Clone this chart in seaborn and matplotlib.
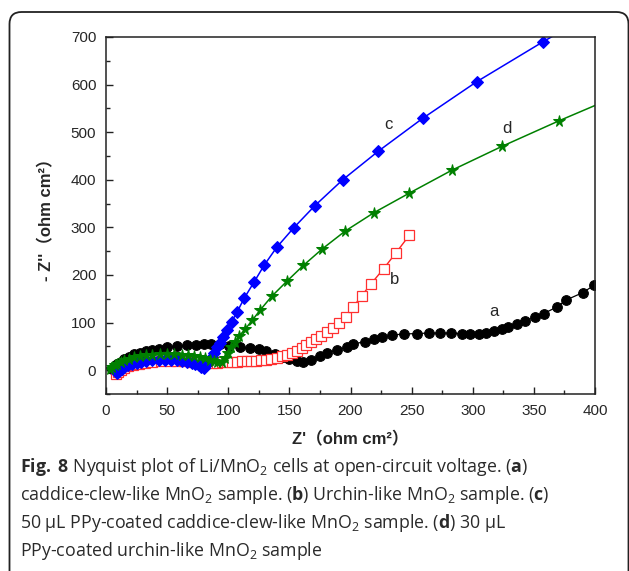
import matplotlib
matplotlib.use("Agg")
import matplotlib.pyplot as plt
import matplotlib.patches as mpatches
import matplotlib.transforms as mtransforms
from matplotlib.ticker import MultipleLocator
import seaborn as sns

# a: caddice-clew-like MnO2 (black circles)
a_x = [5, 7, 9, 12, 15, 19, 23, 28, 33, 38, 43, 50, 58, 66, 74, 80, 86, 93, 101,
       110, 118, 125, 131, 138, 145, 150, 156, 161, 168, 175, 181, 189, 197, 202,
       212, 219, 226, 234, 244, 254, 264, 273, 282, 291, 298, 305, 311, 317, 324,
       329, 336, 343, 351, 358, 369, 376, 390, 399]
a_y = [2, 8, 13, 18, 23, 28, 33, 37, 40, 43, 45, 48, 50, 52, 53, 55, 55, 54, 51,
       48, 46, 44, 41, 34, 28, 23, 20, 18, 21, 30, 37, 42, 48, 55,
       60, 65, 69, 74, 76, 77, 78, 78, 78, 77, 77, 77, 79, 83, 86,
       91, 97, 104, 111, 119, 133, 147, 163, 178]

# b: urchin-like MnO2 (red open squares)
b_x = [8, 10, 12, 15, 18, 22, 27, 32, 38, 45, 52, 58, 64, 70, 76, 82, 87, 91, 95,
       99, 103, 107, 111, 115, 119, 123, 127, 131, 135, 140, 144, 148, 152, 156,
       160, 164, 168, 172, 176, 181, 186, 191, 196, 202, 209, 217, 227, 237, 248]
b_y = [-8, -4, 0, 4, 8, 11, 14, 16, 18, 19, 20, 20, 19, 18, 17, 15, 15, 16, 17,
       18, 18, 18, 19, 19, 20, 20, 21, 22, 24, 26, 29, 32, 36, 41,
       47, 53, 59, 65, 72, 80, 89, 100, 112, 132, 156, 182, 213, 246, 283]

# c: 50 uL PPy-coated caddice-clew-like MnO2 (blue diamonds)
c_x = [9, 11, 13, 15, 18, 21, 25, 29, 33, 38, 43, 48, 53, 58, 62, 66, 70, 73, 76,
       78, 80, 82.5, 84.6, 86.5, 88.3, 90.5, 93.3, 96, 98.7, 102.8, 107.4, 113,
       121.3, 129.5, 139.6, 153.5, 171, 193.6, 222.7, 259, 303.2, 357.5, 415]
c_y = [-5, -1, 3, 6, 10, 13, 16, 18, 20, 21, 22, 22, 22, 21, 20, 18, 16, 13, 10,
       7, 5, 12, 20, 28, 37, 48, 58, 70, 85, 102, 123, 151,
       186, 221, 258, 299, 346, 400, 460, 529, 606, 690, 775]

# d: 30 uL PPy-coated urchin-like MnO2 (green stars)
d_x = [3, 5, 7, 9, 12, 15, 19, 23, 28, 33, 38, 44, 50, 56, 62, 67, 72, 77, 81,
       85, 88, 91, 94.6, 97.3, 100, 102.2, 105.5, 109, 113.7, 119.7, 126, 135.5,
       148, 161.4, 177, 195.5, 219.2, 248.1, 282.8, 323.7, 370.6, 420]
d_y = [2, 7, 11, 14, 18, 21, 24, 27, 29, 31, 32, 33, 33, 33, 32, 31, 30, 28, 25,
       22, 20, 18, 18, 26, 37, 48, 60, 72, 86, 105, 126, 155,
       187, 220, 255, 292, 331, 372, 420, 470, 524, 578]

x_ticks = [0, 50, 100, 150, 200, 250, 300, 350, 400]
y_ticks = [0, 100, 200, 300, 400, 500, 600, 700]

sns.set_style("ticks")
plt.rcParams["font.family"] = ["Liberation Sans", "Noto Sans CJK SC"]
plt.rcParams["mathtext.fontset"] = "custom"
plt.rcParams["mathtext.rm"] = "Open Sans"
plt.rcParams["mathtext.bf"] = "Open Sans:bold"
plt.rcParams["mathtext.it"] = "Open Sans:italic"

fig = plt.figure(figsize=(6.29, 5.71), dpi=100)
ax = fig.add_axes([106 / 629, 1 - 394 / 571, 489 / 629, 357 / 571])

sns.lineplot(x=a_x, y=a_y, ax=ax, sort=False, estimator=None, color="black",
             lw=0.9, marker="o", markersize=7, markeredgecolor="black")
sns.lineplot(x=b_x, y=b_y, ax=ax, sort=False, estimator=None, color="#ff2020",
             lw=1, marker="s", markersize=6.5, markerfacecolor="white",
             markeredgecolor="#ff3030", markeredgewidth=0.9)
sns.lineplot(x=c_x, y=c_y, ax=ax, sort=False, estimator=None, color="#0000ff",
             lw=1.1, marker="D", markersize=6, markeredgecolor="#0000ff")
sns.lineplot(x=d_x, y=d_y, ax=ax, sort=False, estimator=None, color="#008000",
             lw=1.1, marker="*", markersize=8.5, markeredgecolor="#008000")

ax.text(231, 516, "c", fontsize=12, ha="center", va="center")
ax.text(328, 508, "d", fontsize=12, ha="center", va="center")
ax.text(236, 190, "b", fontsize=12, ha="center", va="center")
ax.text(317, 124, "a", fontsize=12, ha="center", va="center")

ax.set_xlim(0, 400)
ax.set_ylim(-50, 700)
ax.set_xticks(x_ticks)
ax.set_yticks(y_ticks)
ax.xaxis.set_minor_locator(MultipleLocator(25))
ax.yaxis.set_minor_locator(MultipleLocator(50))
ax.tick_params(which="both", direction="in", top=False, right=False,
               labelsize=11, width=1, color="#222222")
ax.tick_params(which="major", length=5, pad=7)
ax.tick_params(which="minor", length=3)
for s in ax.spines.values():
    s.set_linewidth(1.1)
    s.set_color("#222222")

ax.set_xlabel("Z'（ohm cm²）", fontsize=12, fontweight="bold", labelpad=10)
ax.set_ylabel("- Z''（ohm cm²）", fontsize=12, fontweight="bold", labelpad=12)

caption = [
    r"$\mathbf{Fig.}$ $\mathbf{8}$ Nyquist plot of Li/MnO$_2$ cells at open-circuit voltage. ($\mathbf{a}$)",
    r"caddice-clew-like MnO$_2$ sample. ($\mathbf{b}$) Urchin-like MnO$_2$ sample. ($\mathbf{c}$)",
    r"50 μL PPy-coated caddice-clew-like MnO$_2$ sample. ($\mathbf{d}$) 30 μL",
    r"PPy-coated urchin-like MnO$_2$ sample",
]
for i, line in enumerate(caption):
    fig.text(20 / 629, 1 - (467 + 28 * i) / 571, line, fontsize=12.8,
             family="Open Sans", color="#2a2a2a", va="center", ha="left")

frame = mpatches.FancyBboxPatch((9.5, -20), 619, 579,
                                boxstyle="round,pad=0,rounding_size=12",
                                transform=mtransforms.IdentityTransform(),
                                fill=False, edgecolor="#222222", lw=1.3)
fig.add_artist(frame)

fig.savefig("out.png", dpi=100)
